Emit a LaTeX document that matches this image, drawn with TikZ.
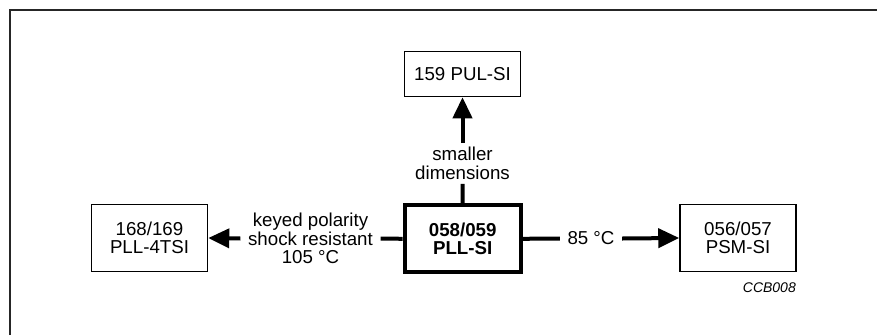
\documentclass[tikz,border=0pt]{standalone}
\usepackage{fontspec}
\setmainfont{Liberation Sans}
\usetikzlibrary{arrows.meta}
\begin{document}
\begin{tikzpicture}[x=1pt,y=-1pt,
  every node/.style={font=\fontsize{18.7}{18.5}\selectfont, text=black},
  partbox/.style={draw=black, line width=1.5pt, minimum width=116pt, minimum height=67pt, inner sep=0pt, align=center},
  mainbox/.style={partbox, line width=4pt, font=\fontsize{18.7}{18.5}\selectfont\bfseries},
  conlabel/.style={align=center, inner xsep=7.5pt, inner ysep=4pt},
  conn/.style={line width=4pt},
  arr/.style={conn, -{Triangle[length=21pt,width=19pt]}}
]
\useasboundingbox (0,0) rectangle (877,335);
\draw[line width=2pt, black!85] (10,335) -- (10,10) -- (877,10);

\node[mainbox] (main) at (462.7,238.8) {058/059\\PLL-SI};
\node[partbox, minimum height=45pt] (top) at (462.5,74) {159 PUL-SI};
\node[partbox] (left) at (149.5,238) {168/169\\PLL-4TSI};
\node[partbox] (right) at (738,238) {056/057\\PSM-SI};

\node[conlabel] (ltxt) at (310.5,238.5) {keyed polarity\\shock resistant\\105 °C};
\node[conlabel] (rtxt) at (591,238.5) {85 °C};
\node[conlabel] (ttxt) at (462.5,163.5) {smaller\\dimensions};

\draw[conn] (main.west) -- (ltxt.east);
\draw[arr] (ltxt.west) -- (left.east);
\draw[conn] (main.east) -- (rtxt.west);
\draw[arr] (rtxt.east) -- (right.west);
\draw[conn] (main.north) -- (ttxt.south);
\draw[arr] (ttxt.north) -- (top.south);

\node[font=\fontsize{14}{16}\selectfont\itshape, anchor=base east, inner sep=0pt] (code) at (796,292) {CCB008};
\end{tikzpicture}
\end{document}
